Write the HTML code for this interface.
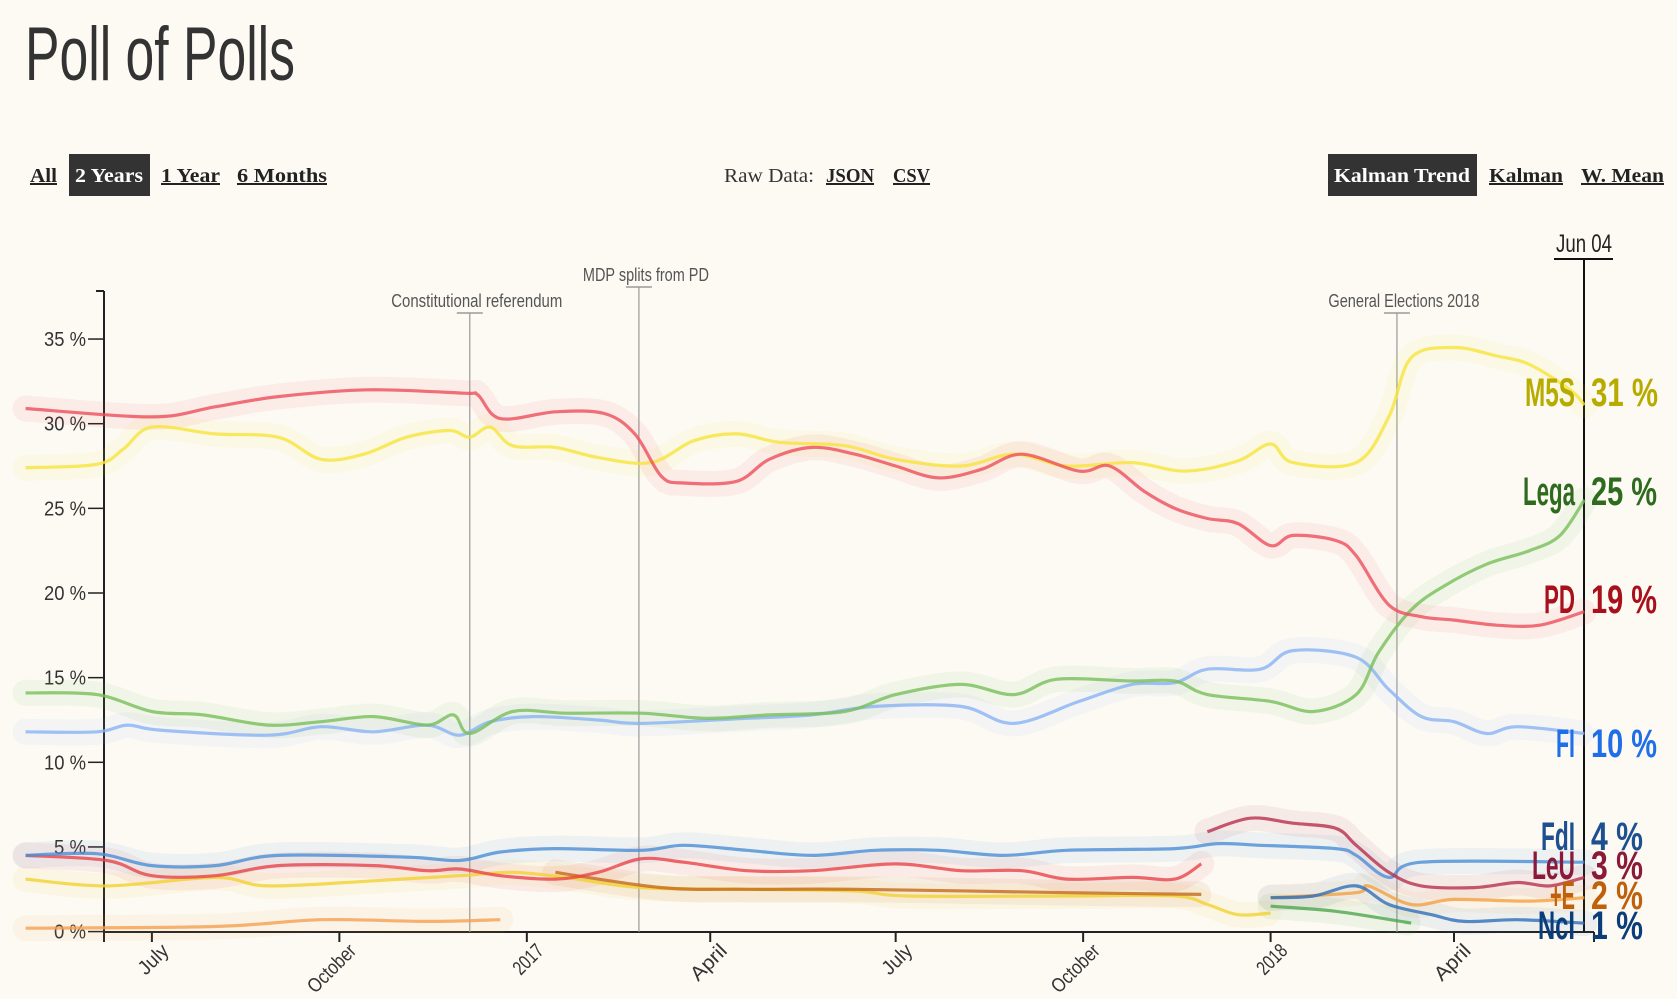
<!DOCTYPE html>
<html><head><meta charset="utf-8"><title>Poll of Polls</title>
<style>
html,body{margin:0;padding:0;background:#fcfaf3;}
svg{display:block;font-family:"Liberation Sans Narrow","Liberation Sans",sans-serif;}
.btn{font-family:"Liberation Serif",serif;font-size:20px;font-weight:bold;fill:#222;text-decoration:underline;}
</style></head>
<body>
<svg id="chart" width="1677" height="999" viewBox="0 0 1677 999" xmlns="http://www.w3.org/2000/svg">
<rect x="0" y="0" width="1677" height="999" fill="#fcfaf3"/>
<text x="25" y="80" font-size="76" fill="#333" textLength="270" lengthAdjust="spacingAndGlyphs">Poll of Polls</text>

<text class="btn" x="30" y="182" textLength="27" lengthAdjust="spacingAndGlyphs">All</text>
<rect x="69" y="154" width="81" height="42" fill="#333"/>
<text class="btn" x="75" y="182" style="fill:#fff;text-decoration:none" textLength="68" lengthAdjust="spacingAndGlyphs">2 Years</text>
<text class="btn" x="161" y="182" textLength="59" lengthAdjust="spacingAndGlyphs">1 Year</text>
<text class="btn" x="237" y="182" textLength="90" lengthAdjust="spacingAndGlyphs">6 Months</text>
<text x="724" y="182" font-family="Liberation Serif, serif" font-size="20" fill="#333" textLength="90" lengthAdjust="spacingAndGlyphs">Raw Data:</text>
<text class="btn" x="826" y="182" textLength="48" lengthAdjust="spacingAndGlyphs">JSON</text>
<text class="btn" x="893" y="182" textLength="37" lengthAdjust="spacingAndGlyphs">CSV</text>
<rect x="1328" y="154" width="149" height="42" fill="#333"/>
<text class="btn" x="1334" y="182" style="fill:#fff;text-decoration:none" textLength="136" lengthAdjust="spacingAndGlyphs">Kalman Trend</text>
<text class="btn" x="1489" y="182" textLength="74" lengthAdjust="spacingAndGlyphs">Kalman</text>
<text class="btn" x="1581" y="182" textLength="83" lengthAdjust="spacingAndGlyphs">W. Mean</text>

<g id="axes"></g>
<g id="bands"></g>
<g id="lines"></g>
<g id="labels"></g>
</svg>
<script>
const NS="http://www.w3.org/2000/svg";
// ---- data ----
const yTicks=[0,5,10,15,20,25,30,35];
const xTickDates=["2016-07-01","2016-10-01","2017-01-01","2017-04-01","2017-07-01","2017-10-01","2018-01-01","2018-04-01"];
const xTickLabels=["July","October","2017","April","July","October","2018","April"];
const eventDates=["2016-12-04","2017-02-25","2018-03-04"];
const eventLabels=["Constitutional referendum","MDP splits from PD","General Elections 2018"];
const eventLabelY=[307,281,307];

const pdDates=["2016-04-30","2016-07-01","2016-08-01","2016-09-01","2016-10-15","2016-12-01","2016-12-08","2016-12-19","2017-01-15","2017-02-08","2017-02-23","2017-03-08","2017-03-19","2017-04-14","2017-04-30","2017-05-21","2017-06-11","2017-07-01","2017-07-22","2017-08-12","2017-09-01","2017-09-29","2017-10-14","2017-10-31","2017-11-15","2017-12-01","2017-12-16","2018-01-01","2018-01-12","2018-02-02","2018-02-12","2018-02-28","2018-03-16","2018-04-01","2018-04-22","2018-05-13","2018-06-04"];
const pdValues=[30.9,30.4,31.0,31.6,32.0,31.8,31.7,30.3,30.7,30.6,29.4,26.9,26.5,26.6,27.9,28.6,28.2,27.5,26.8,27.3,28.2,27.2,27.5,26.0,25.0,24.4,24.1,22.8,23.4,23.1,22.2,19.3,18.6,18.4,18.1,18.1,18.9];

const m5sDates=["2016-04-30","2016-06-04","2016-06-17","2016-07-01","2016-08-01","2016-09-01","2016-09-22","2016-10-13","2016-11-03","2016-11-24","2016-12-04","2016-12-14","2016-12-25","2017-01-15","2017-02-05","2017-03-03","2017-03-24","2017-04-14","2017-05-05","2017-06-06","2017-07-01","2017-08-02","2017-08-28","2017-09-23","2017-10-25","2017-11-20","2017-12-16","2018-01-01","2018-01-12","2018-02-12","2018-02-28","2018-03-11","2018-04-01","2018-04-22","2018-05-08","2018-05-28","2018-06-04"];
const m5sValues=[27.4,27.6,28.5,29.8,29.4,29.2,27.9,28.2,29.2,29.6,29.2,29.8,28.7,28.6,28.0,27.7,29.0,29.4,28.9,28.7,27.9,27.5,28.2,27.5,27.7,27.2,27.8,28.8,27.7,27.7,30.4,33.9,34.5,34.0,33.5,32.0,31.1];

const legaDates=["2016-04-30","2016-06-04","2016-07-01","2016-07-26","2016-08-27","2016-09-22","2016-10-18","2016-11-13","2016-11-26","2016-12-04","2016-12-25","2017-01-20","2017-02-26","2017-03-30","2017-04-30","2017-06-06","2017-07-01","2017-08-02","2017-08-28","2017-09-18","2017-10-25","2017-11-15","2017-12-01","2018-01-01","2018-01-22","2018-02-12","2018-02-23","2018-03-11","2018-03-27","2018-04-17","2018-05-08","2018-05-23","2018-06-04"];
const legaValues=[14.1,14.0,13.0,12.8,12.2,12.4,12.7,12.2,12.8,11.7,13.0,12.9,12.9,12.6,12.8,13.0,14.0,14.6,14.0,14.9,14.8,14.8,14.0,13.6,13.0,14.0,16.5,19.0,20.4,21.7,22.5,23.4,25.5];

const fiDates=["2016-04-30","2016-06-04","2016-06-19","2016-07-05","2016-08-27","2016-09-22","2016-10-18","2016-11-13","2016-11-29","2016-12-14","2017-01-04","2017-02-05","2017-02-26","2017-04-19","2017-05-21","2017-06-21","2017-08-02","2017-08-28","2017-09-29","2017-10-25","2017-11-15","2017-12-01","2017-12-27","2018-01-12","2018-02-12","2018-02-28","2018-03-16","2018-04-01","2018-04-17","2018-05-02","2018-06-04"];
const fiValues=[11.8,11.8,12.2,11.9,11.6,12.1,11.8,12.2,11.6,12.4,12.7,12.5,12.3,12.6,12.8,13.3,13.3,12.3,13.6,14.6,14.7,15.5,15.5,16.6,16.2,14.3,12.7,12.4,11.7,12.1,11.7];

const fdiDates=["2016-04-30","2016-06-04","2016-07-01","2016-08-01","2016-09-01","2016-11-03","2016-11-29","2016-12-19","2017-01-15","2017-02-26","2017-03-19","2017-04-19","2017-05-21","2017-06-21","2017-07-22","2017-08-23","2017-09-23","2017-11-15","2017-12-06","2017-12-27","2018-02-02","2018-02-12","2018-02-28","2018-03-16","2018-06-04"];
const fdiValues=[4.5,4.6,3.9,3.9,4.5,4.4,4.2,4.7,4.9,4.8,5.1,4.8,4.5,4.8,4.8,4.5,4.8,4.9,5.2,5.1,4.9,4.5,3.2,4.1,4.1];

const siDates=["2016-04-30","2016-06-09","2016-07-01","2016-08-01","2016-09-01","2016-10-18","2016-11-13","2016-11-29","2016-12-19","2017-01-15","2017-02-05","2017-02-26","2017-03-19","2017-04-19","2017-05-21","2017-07-01","2017-08-02","2017-09-01","2017-09-23","2017-10-25","2017-11-15","2017-11-28"];
const siValues=[4.5,4.2,3.3,3.3,3.9,3.9,3.6,3.7,3.3,3.1,3.5,4.3,4.1,3.6,3.6,4.0,3.6,3.6,3.1,3.2,3.1,4.0];

const leuDates=["2017-12-01","2017-12-22","2018-01-12","2018-02-02","2018-02-12","2018-02-28","2018-03-16","2018-04-11","2018-05-02","2018-05-18","2018-06-04"];
const leuValues=[5.9,6.7,6.4,6.1,5.1,3.5,2.7,2.6,2.9,2.7,3.2];

const apDates=["2016-04-30","2016-06-09","2016-08-01","2016-08-27","2016-10-18","2016-11-29","2016-12-25","2017-01-20","2017-02-26","2017-04-19","2017-06-11","2017-07-07","2017-09-23","2017-11-15","2017-12-01","2017-12-16","2018-01-01"];
const apValues=[3.1,2.7,3.2,2.7,3.0,3.3,3.5,3.2,2.6,2.5,2.4,2.1,2.1,2.1,1.6,1.0,1.1];

const orangeEarlyDates=["2016-04-30","2016-08-01","2016-09-22","2016-11-13","2016-12-19"];
const orangeEarlyValues=[0.2,0.3,0.7,0.6,0.7];

const brownDates=["2017-01-15","2017-03-08","2017-04-19","2017-06-11","2017-09-23","2017-11-28"];
const brownValues=[3.5,2.6,2.5,2.5,2.3,2.2];

const piuEDates=["2018-01-01","2018-02-12","2018-02-18","2018-03-11","2018-04-01","2018-05-08","2018-06-04"];
const piuEValues=[2.0,2.3,2.7,1.6,1.9,1.8,2.0];

const nciDates=["2018-01-01","2018-01-22","2018-02-12","2018-02-28","2018-03-21","2018-04-06","2018-05-02","2018-06-04"];
const nciValues=[2.0,2.1,2.7,1.6,1.0,0.6,0.7,0.5];

const insDates=["2018-01-01","2018-02-02","2018-03-11"];
const insValues=[1.5,1.2,0.5];

const labelNames=["M5S","Lega","PD","FI","FdI","LeU","+E","NcI"];
const labelPcts=["31 %","25 %","19 %","10 %","4 %","3 %","2 %","1 %"];

// ---- scales ----
const t0=Date.UTC(2016,6,1);
function x(d){const t=Date.parse(d+"T00:00:00Z");return 151.9+(t-t0)/86400000*2.0377;}
function y(v){return 931.6-v*16.93;}

function el(tag,attrs,parent){const e=document.createElementNS(NS,tag);for(const k in attrs)e.setAttribute(k,attrs[k]);parent.appendChild(e);return e;}
const axes=document.getElementById('axes'),bands=document.getElementById('bands'),lines=document.getElementById('lines'),labels=document.getElementById('labels');

// left axis
let a=el('line',{x1:104,y1:291,x2:104,y2:932,stroke:'#222','stroke-width':2},axes);

el('line',{x1:96,y1:291,x2:104,y2:291,stroke:'#222','stroke-width':2},axes);
yTicks.forEach(v=>{
  const tk=el('line',{x1:88,y1:y(v),x2:104,y2:y(v),stroke:'#222','stroke-width':1.5},axes);
  
  const t=el('text',{x:86,y:y(v)+7,'text-anchor':'end','font-size':20,fill:'#333',textLength:(v>=10?42:32),lengthAdjust:'spacingAndGlyphs'},axes);
  t.textContent=v+" %";
  
});
// bottom axis
a=el('line',{x1:104,y1:932,x2:1594,y2:932,stroke:'#222','stroke-width':2},axes);

el('line',{x1:1594,y1:932,x2:1594,y2:942,stroke:'#222','stroke-width':2},axes);
el('line',{x1:104,y1:932,x2:104,y2:942,stroke:'#222','stroke-width':2},axes);
xTickDates.forEach((d,i)=>{
  const xx=x(d);
  const tk=el('line',{x1:xx,y1:932,x2:xx,y2:942,stroke:'#222','stroke-width':2},axes);
  
  const lab=xTickLabels[i];
  const t=el('text',{x:xx+18,y:952,'text-anchor':'end','font-size':20,fill:'#333',transform:`rotate(-45 ${xx+18} 952)`,textLength:lab.length*8.5,lengthAdjust:'spacingAndGlyphs'},axes);
  t.textContent=lab;
  
});
// right axis & date
a=el('line',{x1:1584,y1:259,x2:1584,y2:932,stroke:'#111','stroke-width':2},axes);

el('line',{x1:1554,y1:259,x2:1613,y2:259,stroke:'#111','stroke-width':2},axes);
let jt=el('text',{x:1584,y:252,'text-anchor':'middle','font-size':25,fill:'#222',textLength:56,lengthAdjust:'spacingAndGlyphs'},axes);
jt.textContent="Jun 04";

// events
const eventW=[171,126,151];
eventDates.forEach((d,i)=>{
  const xx=x(d),ly=eventLabelY[i];
  const l=el('line',{x1:xx,y1:ly+6,x2:xx,y2:932,stroke:'#999','stroke-width':1.2},axes);
  
  el('line',{x1:xx-13,y1:ly+6,x2:xx+13,y2:ly+6,stroke:'#999','stroke-width':1.5},axes);
  const t=el('text',{x:xx+7,y:ly,'text-anchor':'middle','font-size':18,fill:'#555',textLength:eventW[i],lengthAdjust:'spacingAndGlyphs'},axes);
  t.textContent=eventLabels[i];
  
});

function pathD(ds,vs){
  const p=ds.map((d,i)=>[x(d),y(vs[i])]);
  let s="M"+p[0][0].toFixed(1)+","+p[0][1].toFixed(1);
  for(let i=0;i<p.length-1;i++){
    const p0=p[i-1]||p[i],p1=p[i],p2=p[i+1],p3=p[i+2]||p2;
    const c1=[p1[0]+(p2[0]-p0[0])/6,p1[1]+(p2[1]-p0[1])/6];
    const c2=[p2[0]-(p3[0]-p1[0])/6,p2[1]-(p3[1]-p1[1])/6];
    s+=` C${c1[0].toFixed(1)},${c1[1].toFixed(1)} ${c2[0].toFixed(1)},${c2[1].toFixed(1)} ${p2[0].toFixed(1)},${p2[1].toFixed(1)}`;
  }
  return s;
}
function series(name,ds,vs,color){
  const b=el('path',{d:pathD(ds,vs),fill:'none',stroke:color,'stroke-width':26,'stroke-opacity':0.08,'stroke-linejoin':'round','stroke-linecap':'round','stroke-dasharray':'6 5'},bands);
  
  
  const p=el('path',{d:pathD(ds,vs),fill:'none',stroke:color,'stroke-width':3.2,'stroke-opacity':0.8,'stroke-linejoin':'round'},lines);
  
  
}
series('ap',apDates,apValues,'#f2d230');
series('brown',brownDates,brownValues,'#c46a1a');
series('orange-early',orangeEarlyDates,orangeEarlyValues,'#f5a050');
series('si',siDates,siValues,'#e8434a');
series('fdi',fdiDates,fdiValues,'#4a8ed6');
series('leu',leuDates,leuValues,'#b8304e');
series('insieme',insDates,insValues,'#4ca64c');
series('piu-europa',piuEDates,piuEValues,'#f5a040');
series('nci',nciDates,nciValues,'#2f6fb8');
series('fi',fiDates,fiValues,'#88b3f5');
series('lega',legaDates,legaValues,'#78bf5a');
series('m5s',m5sDates,m5sValues,'#f7e43a');
series('pd',pdDates,pdValues,'#ec4f5c');

const labelColors=['#b8ab00','#2f6b1e','#a8101c','#1e6fe8','#1d4f91','#8b1a3a','#c0600a','#0b3d7a'];
const labelBase=[406,505,613,757,850,879,909,939];
const nameW=[50,52,31,19,34,43,25,37];
const pctW=[67,66,66,66,52,52,52,52];
labelNames.forEach((n,i)=>{
  const t=el('text',{x:1575,y:labelBase[i],'text-anchor':'end','font-size':40,'font-weight':'bold',fill:labelColors[i],textLength:nameW[i],lengthAdjust:'spacingAndGlyphs'},labels);
  t.textContent=n;
  
  
  const p=el('text',{x:1591,y:labelBase[i],'font-size':40,'font-weight':'bold',fill:labelColors[i],textLength:pctW[i],lengthAdjust:'spacingAndGlyphs'},labels);
  p.textContent=labelPcts[i];
  
  
});
</script>
</body></html>
